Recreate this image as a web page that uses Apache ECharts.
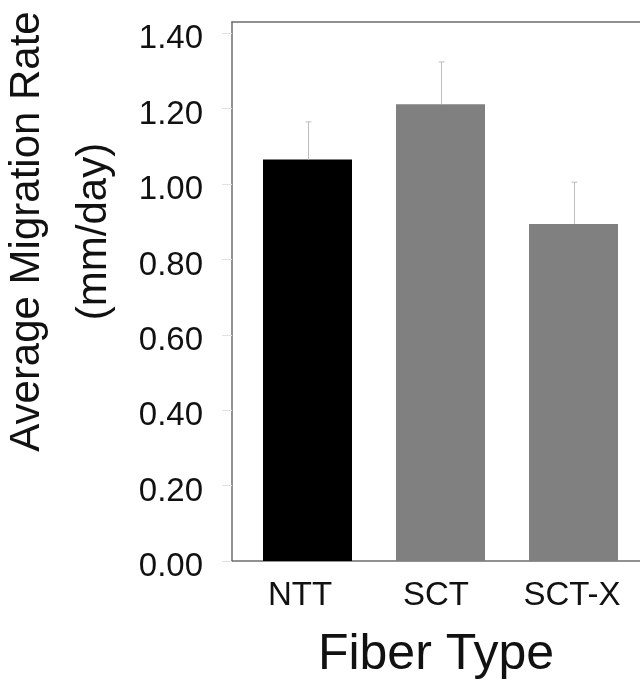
<!DOCTYPE html>
<html>
<head>
<meta charset="utf-8">
<title>Average Migration Rate</title>
<script src="https://cdn.jsdelivr.net/npm/echarts@6/dist/echarts.min.js"></script>
<style>
	html, body { margin: 0; padding: 0; background: #fff; }
	#chartmain { width: 640px; height: 683px; }
</style>
</head>
<body>
<div id="chartmain"></div>
<script>
// data
var fiberTypes = ['NTT', 'SCT', 'SCT-X'];
var meanRate = [1.065, 1.212, 0.894];
var errUp = [0.100, 0.112, 0.111];
var yTicks = [0, 0.2, 0.4, 0.6, 0.8, 1.0, 1.2, 1.4];

var fontName = '"Liberation Sans", Arial, sans-serif';
var axisGray = '#6e6e6e';

var option = {
	animation : false,
	backgroundColor : '#fff',
	grid : [ {
		left : 232,
		right : 0,
		top : 22,
		bottom : 122,
		outerBoundsMode : 'none',
		containLabel : false
	}, {
		left : 241,
		right : 0,
		top : 22,
		bottom : 122,
		outerBoundsMode : 'none',
		containLabel : false
	} ],
	xAxis : [ {
		gridIndex : 0,
		type : 'category',
		data : fiberTypes,
		axisLine : { lineStyle : { color : axisGray, width : 1.5 } },
		axisTick : { show : false },
		axisLabel : {
			color : '#111',
			fontFamily : fontName,
			fontSize : 33,
			margin : 18
		},
		name : 'Fiber Type',
		nameLocation : 'middle',
		nameGap : 69,
		nameTextStyle : {
			color : '#111',
			fontFamily : fontName,
			fontSize : 50
		}
	}, {
		gridIndex : 0,
		type : 'category',
		position : 'top',
		data : fiberTypes,
		axisLine : { lineStyle : { color : axisGray, width : 1.5 } },
		axisTick : { show : false },
		axisLabel : { show : false }
	}, {
		gridIndex : 1,
		type : 'category',
		data : fiberTypes,
		show : false
	} ],
	yAxis : [ {
		gridIndex : 0,
		type : 'value',
		min : yTicks[0],
		max : 1.43,
		interval : 0.2,
		splitLine : { show : false },
		axisLine : { show : true, lineStyle : { color : axisGray, width : 1.5 } },
		axisTick : { show : true, length : 10, lineStyle : { color : '#e2e2e2' } },
		axisLabel : {
			showMaxLabel : false,
			color : '#111',
			fontFamily : fontName,
			fontSize : 33,
			margin : 29,
			verticalAlign : 'top',
			lineHeight : 12,
			formatter : function(v) { return v.toFixed(2); }
		},
		name : 'Average Migration Rate\n(mm/day)',
		nameLocation : 'middle',
		nameGap : 90,
		nameTextStyle : {
			color : '#111',
			fontFamily : fontName,
			fontSize : 42,
			lineHeight : 67,
			padding : [ 0, 0, 0, 120 ]
		}
	}, {
		gridIndex : 1,
		type : 'value',
		min : yTicks[0],
		max : 1.43,
		show : false
	} ],
	series : [ {
		type : 'bar',
		xAxisIndex : 2,
		yAxisIndex : 1,
		data : meanRate,
		barWidth : 89,
		itemStyle : {
			color : function(p) { return p.dataIndex === 0 ? '#000000' : '#808080'; }
		},
		z : 2
	}, {
		type : 'custom',
		xAxisIndex : 2,
		yAxisIndex : 1,
		data : meanRate.map(function(v, i) { return [ i, v, v + errUp[i] ]; }),
		renderItem : function(params, api) {
			var lo = api.coord([ api.value(0), api.value(1) ]);
			var hi = api.coord([ api.value(0), api.value(2) ]);
			var x = Math.round(lo[0]) + 0.5;
			var style = { stroke : '#bdbdbd', lineWidth : 1 };
			return {
				type : 'group',
				children : [ {
					type : 'line',
					shape : { x1 : x, y1 : lo[1], x2 : x, y2 : hi[1] },
					style : style
				}, {
					type : 'line',
					shape : { x1 : x - 3, y1 : hi[1], x2 : x + 3, y2 : hi[1] },
					style : style
				} ]
			};
		},
		z : 3
	} ]
};

var myChart = echarts.init(document.getElementById('chartmain'));
myChart.setOption(option);
</script>
</body>
</html>
